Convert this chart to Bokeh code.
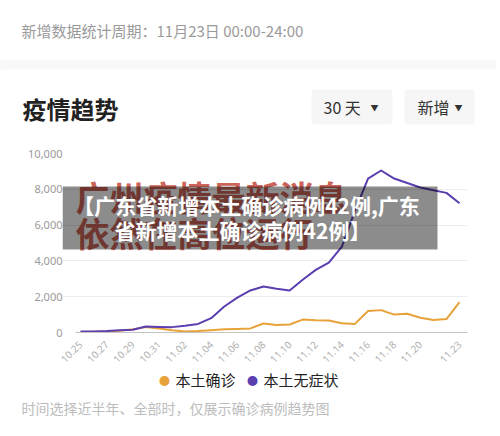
import numpy as np
from math import pi
from bokeh.plotting import figure
from bokeh.layouts import column
from bokeh.models import (Range1d, FixedTicker, NumeralTickFormatter, Label,
                          BoxAnnotation, ColumnDataSource)
from bokeh.embed import file_html
from bokeh.resources import INLINE

# ---------------- data ----------------
dates = ["10.25", "10.26", "10.27", "10.28", "10.29", "10.30", "10.31",
         "11.01", "11.02", "11.03", "11.04", "11.05", "11.06", "11.07",
         "11.08", "11.09", "11.10", "11.11", "11.12", "11.13", "11.14",
         "11.15", "11.16", "11.17", "11.18", "11.19", "11.20", "11.21",
         "11.22", "11.23"]
confirmed = [30, 40, 60, 100, 180, 300, 220, 120, 60, 80, 130, 180, 200, 230,
             500, 420, 450, 720, 680, 670, 520, 480, 1200, 1250, 1000, 1050,
             820, 700, 750, 1700]
asymptomatic = [50, 60, 80, 120, 150, 330, 310, 300, 380, 480, 800, 1450,
                1950, 2350, 2570, 2450, 2350, 2950, 3500, 3900, 4800, 6800,
                8600, 9050, 8600, 8350, 8100, 7950, 7800, 7220]
tick_idx = [0, 2, 4, 6, 8, 10, 12, 14, 16, 18, 20, 22, 24, 26, 29]
y_ticks = [0, 2000, 4000, 6000, 8000, 10000]
series_names = ["本土确诊", "本土无症状"]
series_colors = ["#e8a23a", "#5b3fb0"]

header_text = "新增数据统计周期：11月23日 00:00-24:00"
title_text = "疫情趋势"
btn1_text = "30 天"
btn2_text = "新增"
foot_text = "时间选择近半年、全部时，仅展示确诊病例趋势图"
wm_lines = ["广州疫情最新消息", "依然在高位运行"]
overlay_lines = ["【广东省新增本土确诊病例42例,广东", "省新增本土确诊病例42例】"]

FONT = "Noto Sans CJK SC"
W = 496


def blank(height):
    f = figure(width=W, height=height, output_backend="svg", toolbar_location=None,
               x_axis_location=None, y_axis_location=None, title=None,
               x_range=Range1d(0, 1), y_range=Range1d(0, 1),
               min_border=0, min_border_left=0, min_border_right=0,
               min_border_top=0, min_border_bottom=0, frame_align=False)
    f.grid.visible = False
    f.outline_line_color = None
    f.background_fill_color = "white"
    f.border_fill_color = "white"
    return f


def make_helpers(fig, x0, ybottom):
    def label(X, Y, text, size, color, bold=False, align="left", alpha=1.0):
        fig.add_layout(Label(x=X - x0, y=ybottom - Y, x_units="screen", y_units="screen",
                             text=text, text_font=FONT, text_font_size=f"{size}px",
                             text_color=color, text_alpha=alpha,
                             text_font_style="bold" if bold else "normal",
                             text_align=align, text_baseline="middle"))

    def box(X0, X1, Y0, Y1, color, alpha=1.0, radius=0):
        fig.add_layout(BoxAnnotation(left=X0 - x0, right=X1 - x0,
                                     top=ybottom - Y0, bottom=ybottom - Y1,
                                     left_units="screen", right_units="screen",
                                     top_units="screen", bottom_units="screen",
                                     fill_color=color, fill_alpha=alpha, line_color=None,
                                     border_radius=radius))
    return label, box


# ---------------- top panel (header / title / buttons) ----------------
top = blank(145)
tl, tb = make_helpers(top, 0, 145)
tb(-10, W + 10, 60, 69, "#f8f8f8")
tl(21, 30, header_text, 15, "#9a9a9a")
tl(22, 108, title_text, 24, "#222222", bold=True)
tb(311, 392, 89, 124, "#f6f6f6", radius=4)
tb(404, 474, 89, 124, "#f6f6f6", radius=4)
tl(323, 106, btn1_text, 16, "#333333")
tl(374, 107, "▼", 8, "#333333", align="center")
tl(417, 106, btn2_text, 16, "#333333")
tl(458, 107, "▼", 8, "#333333", align="center")

# ---------------- chart ----------------
src = ColumnDataSource(dict(x=np.arange(len(dates)), c=confirmed, a=asymptomatic))

p = figure(width=W, height=224, output_backend="svg", toolbar_location=None, title=None,
           x_range=Range1d(-1.377, 29.61), y_range=Range1d(0, 10000),
           min_border_left=62, min_border_right=W - 467, min_border_top=8,
           min_border_bottom=37, frame_align=False)
p.background_fill_color = "white"
p.border_fill_color = "white"
p.outline_line_color = None

p.line("x", "c", source=src, color=series_colors[0], line_width=2, line_join="round")
p.line("x", "a", source=src, color=series_colors[1], line_width=2, line_join="round")

p.xaxis.ticker = FixedTicker(ticks=tick_idx)
p.xaxis.major_label_overrides = {i: dates[i] for i in tick_idx}
p.xaxis.major_label_orientation = pi / 4
p.xaxis.major_tick_line_color = None
p.xaxis.minor_tick_line_color = None
p.xaxis.axis_line_color = "#c4c4c4"
p.xaxis.bounds = (-0.4, 29.61)
p.xaxis.major_label_text_color = "#b0b0b0"
p.xaxis.major_label_text_font_size = "10px"
p.xaxis.major_label_text_font = "Noto Sans"
p.xaxis.major_label_standoff = 4

p.yaxis.ticker = FixedTicker(ticks=y_ticks)
p.yaxis.formatter = NumeralTickFormatter(format="0,0")
p.yaxis.axis_line_color = None
p.yaxis.major_tick_line_color = None
p.yaxis.minor_tick_line_color = None
p.yaxis.major_label_text_color = "#9a9a9a"
p.yaxis.major_label_text_font_size = "11px"
p.yaxis.major_label_text_font = "Noto Sans"
p.yaxis.major_label_standoff = -6

p.xgrid.grid_line_color = None
p.ygrid.grid_line_color = "#ececec"
p.ygrid.ticker = FixedTicker(ticks=y_ticks)

cl, cb = make_helpers(p, 62, 332)
cl(75, 196, wm_lines[0], 34, "#c0392b", bold=True, alpha=0.8)
cl(75, 232, wm_lines[1], 34, "#c0392b", bold=True, alpha=0.8)
cb(62, 437, 186, 249, "#000000", alpha=0.45)
cl(246, 204, overlay_lines[0], 21, "white", bold=True, align="center")
cl(242, 229, overlay_lines[1], 21, "white", bold=True, align="center")

# ---------------- bottom panel (legend / footnote) ----------------
bot = blank(63)
bl, bb = make_helpers(bot, 0, 432)
bl(164, 379, "●", 11, series_colors[0], align="center")
bl(175, 379, series_names[0], 15, "#222222")
bl(252, 379, "●", 11, series_colors[1], align="center")
bl(263, 379, series_names[1], 15, "#222222")
bl(21, 407, foot_text, 14, "#bdbdbd")

layout = column(top, p, bot, spacing=0)
open("out.html", "w").write(file_html(layout, INLINE))
